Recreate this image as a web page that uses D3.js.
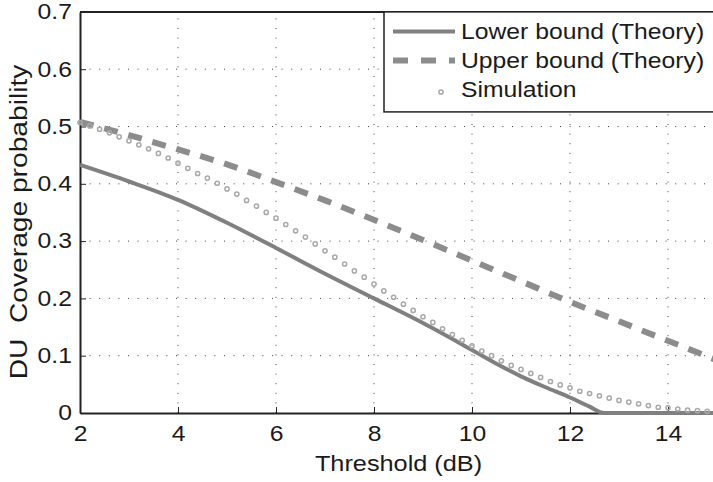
<!DOCTYPE html>
<html>
<head>
<meta charset="utf-8">
<script src="https://cdn.jsdelivr.net/npm/d3@7"></script>
<style>
  body { margin: 0; background: #fff; }
  svg { display: block; font-family: "Liberation Sans", Arial, sans-serif; }
</style>
</head>
<body>
<script>
const width = 713;
const height = 482;
const textScale = 'scale(1.15,1)'; // the original text looks a bit stretched horizontally

// tick labels
const xTicks = [2, 4, 6, 8, 10, 12, 14];
const yTicks = [0, 0.1, 0.2, 0.3, 0.4, 0.5, 0.6, 0.7];

// lower bound (theory)
const lowerX = [2, 3, 4, 5, 6, 7, 8, 9, 10, 10.5, 11, 11.5, 12, 12.4, 12.7, 13, 14, 15];
const lowerY = [0.433, 0.404, 0.372, 0.332, 0.288, 0.243, 0.200, 0.157, 0.110, 0.086, 0.064, 0.045, 0.027, 0.011, 0, 0, 0, 0];

// upper bound (theory)
const upperX = [2, 3, 4, 5, 6, 7, 8, 9, 10, 11, 12, 13, 14, 15];
const upperY = [0.508, 0.485, 0.460, 0.434, 0.403, 0.371, 0.337, 0.302, 0.266, 0.230, 0.194, 0.160, 0.126, 0.092];

// simulation points
const simX = [2.0, 2.2, 2.4, 2.6, 2.8, 3.0, 3.2, 3.4, 3.6, 3.8,
              4.0, 4.2, 4.4, 4.6, 4.8, 5.0, 5.2, 5.4, 5.6, 5.8,
              6.0, 6.2, 6.4, 6.6, 6.8, 7.0, 7.2, 7.4, 7.6, 7.8,
              8.0, 8.2, 8.4, 8.6, 8.8, 9.0, 9.2, 9.4, 9.6, 9.8,
              10.0, 10.2, 10.4, 10.6, 10.8, 11.0, 11.2, 11.4, 11.6, 11.8,
              12.0, 12.2, 12.4, 12.6, 12.8, 13.0, 13.2, 13.4, 13.6, 13.8,
              14.0, 14.2, 14.4, 14.6, 14.8];
const simY = [0.507, 0.501, 0.495, 0.489, 0.482, 0.475, 0.468, 0.461, 0.453, 0.445,
              0.436, 0.427, 0.418, 0.410, 0.401, 0.391, 0.382, 0.371, 0.361, 0.350,
              0.340, 0.329, 0.318, 0.307, 0.295, 0.283, 0.272, 0.260, 0.248, 0.237,
              0.225, 0.213, 0.202, 0.190, 0.179, 0.168, 0.158, 0.147, 0.137, 0.127,
              0.117, 0.108, 0.100, 0.091, 0.083, 0.076, 0.069, 0.062, 0.055, 0.049,
              0.044, 0.038, 0.034, 0.030, 0.026, 0.022, 0.019, 0.016, 0.013, 0.010,
              0.009, 0.007, 0.005, 0.004, 0.003];

const legendNames = ['Lower bound (Theory)', 'Upper bound (Theory)', 'Simulation'];

const lowerColor = '#808080';
const upperColor = '#8c8c8c';
const simColor = '#a8a8a8';
const axisColor = '#222';

const svg = d3.select('body').append('svg')
    .attr('width', width).attr('height', height);

// plot area (right border lies just outside the picture)
const x = d3.scaleLinear().domain([2, 15]).range([80, 717]);
const y = d3.scaleLinear().domain([0, 0.7]).range([413, 11.9]);

// dotted grid
const grid = svg.append('g')
    .attr('stroke', '#444').attr('stroke-width', 1).attr('stroke-dasharray', '1,8.6');
grid.selectAll('.vgrid').data(xTicks.slice(1)).enter().append('line')
    .attr('x1', d => x(d)).attr('x2', d => x(d))
    .attr('y1', y(0)).attr('y2', y(0.7));
grid.selectAll('.hgrid').data(yTicks.slice(1, -1)).enter().append('line')
    .attr('x1', x(2)).attr('x2', x(15))
    .attr('y1', d => y(d)).attr('y2', d => y(d));

// axes
const xAxis = svg.append('g')
    .attr('transform', `translate(0,${y(0)})`)
    .call(d3.axisBottom(x).tickValues(xTicks).tickSize(-6).tickSizeOuter(0).tickPadding(13)
        .tickFormat(d3.format('d')));
const yAxis = svg.append('g')
    .attr('transform', `translate(${x(2)},0)`)
    .call(d3.axisLeft(y).tickValues(yTicks).tickSize(-6).tickSizeOuter(0).tickPadding(7)
        .tickFormat(d => d === 0 ? '0' : d3.format('.1f')(d)));

[xAxis, yAxis].forEach(ax => {
    ax.select('.domain').attr('stroke', axisColor).attr('stroke-width', 2);
    ax.selectAll('.tick line').attr('stroke', axisColor).attr('stroke-width', 1);
    ax.selectAll('.tick text')
        .attr('fill', '#1a1a1a')
        .style('font-size', '21.5px')
        .attr('transform', textScale);
});

// top border
svg.append('line')
    .attr('x1', x(2)).attr('x2', x(15))
    .attr('y1', y(0.7)).attr('y2', y(0.7))
    .attr('stroke', axisColor).attr('stroke-width', 2);

// axis titles
svg.append('text')
    .attr('transform', `translate(${(x(2) + x(15)) / 2},471) ${textScale}`)
    .attr('text-anchor', 'middle')
    .style('font-size', '22px').attr('fill', '#1a1a1a')
    .text('Threshold (dB)');

svg.append('text')
    .attr('transform', `translate(27,222) rotate(-90) ${textScale}`)
    .attr('text-anchor', 'middle')
    .style('font-size', '24.5px').attr('fill', '#1a1a1a')
    .style('white-space', 'pre')
    .text('DU  Coverage probability');

// curves
const line = d3.line()
    .x(d => x(d[0])).y(d => y(d[1]))
    .curve(d3.curveMonotoneX);

svg.append('path')
    .datum(upperX.map((d, i) => [d, upperY[i]]))
    .attr('d', line)
    .attr('fill', 'none')
    .attr('stroke', upperColor).attr('stroke-width', 6)
    .attr('stroke-dasharray', '14,11');

svg.append('path')
    .datum(lowerX.map((d, i) => [d, lowerY[i]]))
    .attr('d', line)
    .attr('fill', 'none')
    .attr('stroke', lowerColor).attr('stroke-width', 4);

svg.append('g').selectAll('circle')
    .data(simX.map((d, i) => [d, simY[i]]))
    .enter().append('circle')
    .attr('cx', d => x(d[0])).attr('cy', d => y(d[1]))
    .attr('r', 2.1)
    .attr('fill', 'none')
    .attr('stroke', simColor).attr('stroke-width', 1.5);

// legend
const legend = svg.append('g');
legend.append('rect')
    .attr('x', 384).attr('y', y(0.7))
    .attr('width', 360).attr('height', 100)
    .attr('fill', '#fff')
    .attr('stroke', axisColor).attr('stroke-width', 1.5);

const rowY = [31.5, 60.5, 89];

legend.append('line')
    .attr('x1', 393).attr('x2', 455).attr('y1', rowY[0]).attr('y2', rowY[0])
    .attr('stroke', lowerColor).attr('stroke-width', 4);
legend.append('line')
    .attr('x1', 393).attr('x2', 455).attr('y1', rowY[1]).attr('y2', rowY[1])
    .attr('stroke', upperColor).attr('stroke-width', 6)
    .attr('stroke-dasharray', '15,13');
legend.append('circle')
    .attr('cx', 441).attr('cy', rowY[2] + 3).attr('r', 2.1)
    .attr('fill', 'none').attr('stroke', simColor).attr('stroke-width', 1.5);

legend.selectAll('.label').data(legendNames).enter().append('text')
    .attr('transform', (d, i) => `translate(461,${rowY[i] + 7.5}) ${textScale}`)
    .style('font-size', '21.5px').attr('fill', '#1a1a1a')
    .text(d => d);
</script>
</body>
</html>
